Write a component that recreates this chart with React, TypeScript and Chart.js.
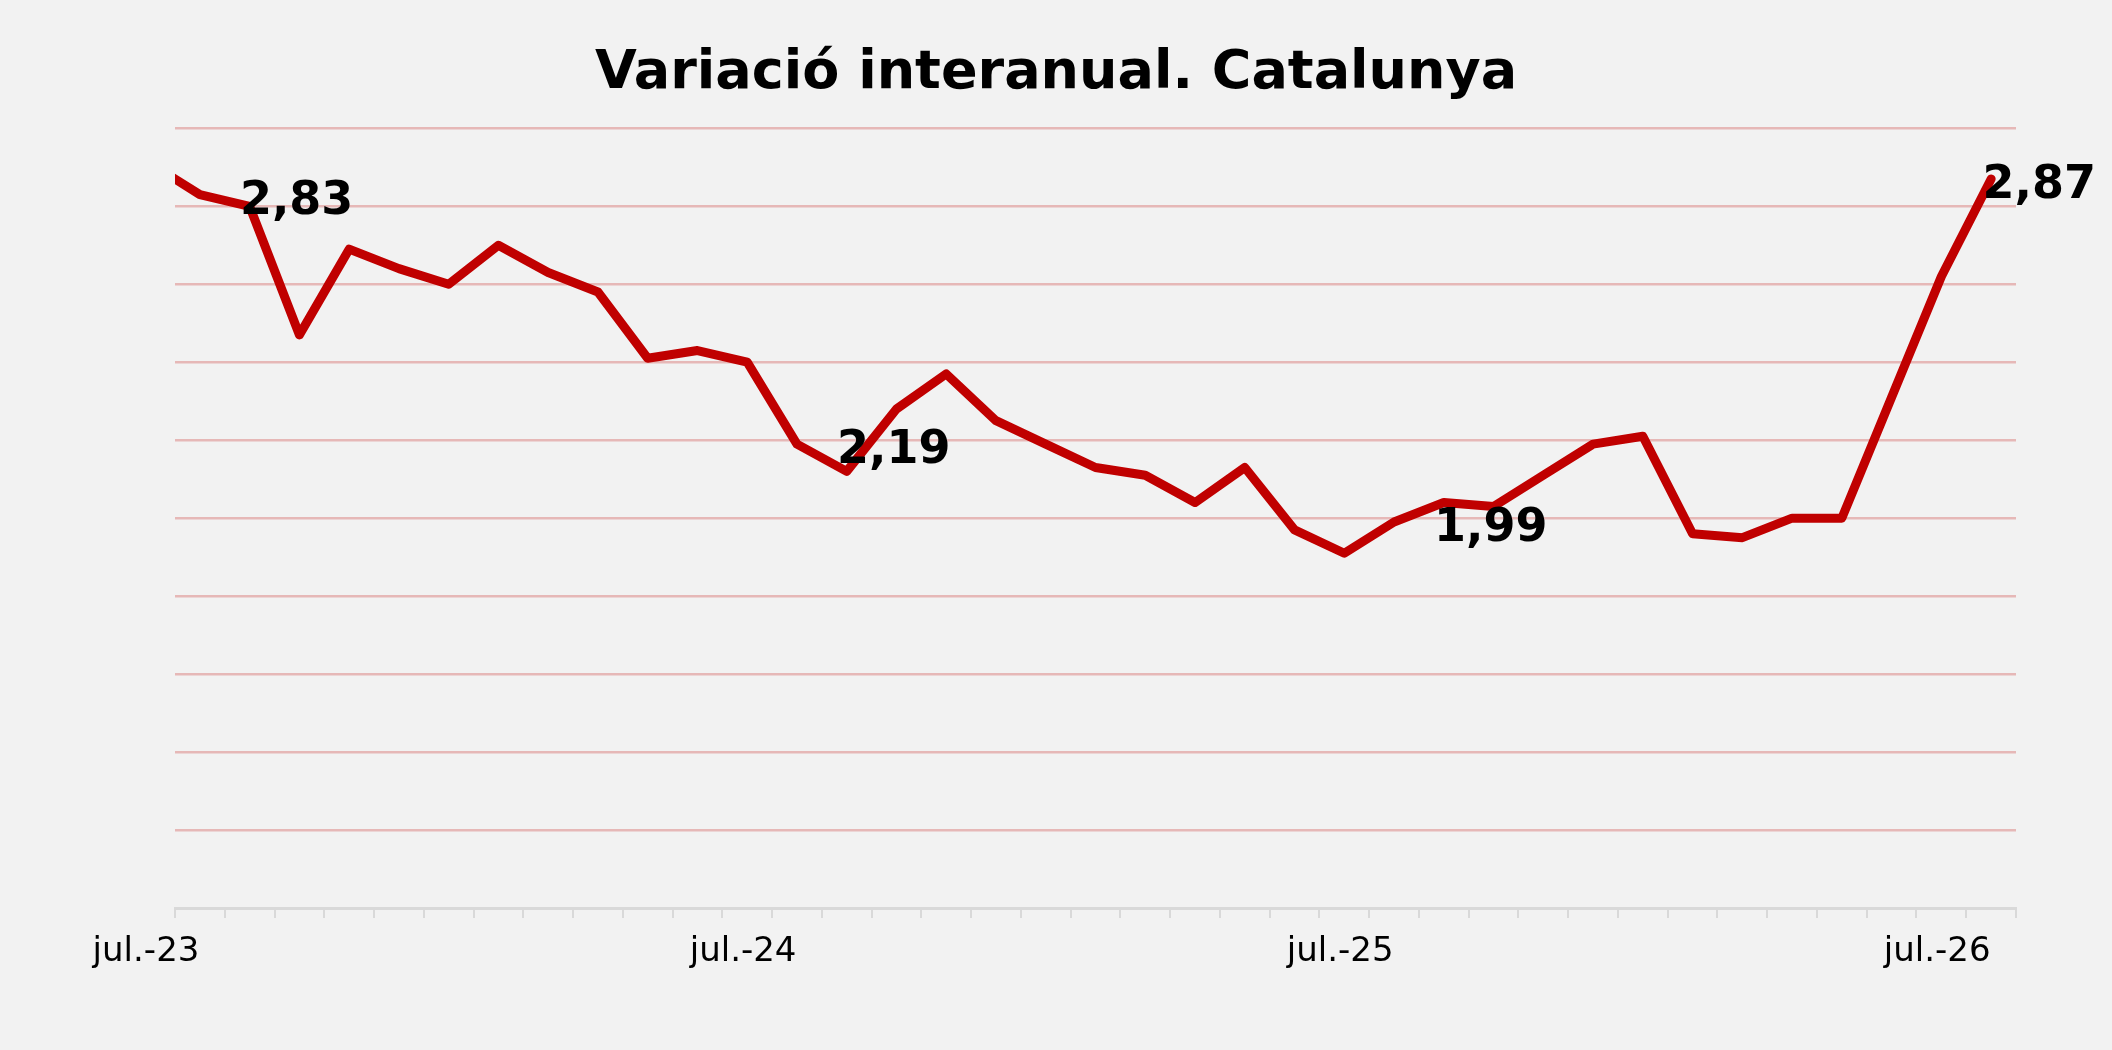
import { useEffect, useRef } from "react";
import { Chart, registerables } from "chart.js";

Chart.register(...registerables);

// Mesos de la sèrie (el primer queda retallat a l'esquerra de l'eix)
const months = [
  "jul.-23", "ag.-23", "set.-23", "oct.-23", "nov.-23", "des.-23",
  "gen.-24", "febr.-24", "març-24", "abr.-24", "maig-24", "juny-24",
  "jul.-24", "ag.-24", "set.-24", "oct.-24", "nov.-24", "des.-24",
  "gen.-25", "febr.-25", "març-25", "abr.-25", "maig-25", "juny-25",
  "jul.-25", "ag.-25", "set.-25", "oct.-25", "nov.-25", "des.-25",
  "gen.-26", "febr.-26", "març-26", "abr.-26", "maig-26", "juny-26",
  "jul.-26", "ag.-26",
];

const values = [
  2.91, 2.83, 2.8, 2.47, 2.69, 2.64,
  2.6, 2.7, 2.63, 2.58, 2.41, 2.43,
  2.4, 2.19, 2.12, 2.28, 2.37, 2.25,
  2.19, 2.13, 2.11, 2.04, 2.13, 1.97,
  1.91, 1.99, 2.04, 2.03, 2.11, 2.19,
  2.21, 1.96, 1.95, 2.0, 2.0, 2.31,
  2.62, 2.87,
];

// mesos amb etiqueta a l'eix X
const axisLabelMonths = ["jul.-23", "jul.-24", "jul.-25", "jul.-26"];
// punts amb el valor escrit
const labeledMonths = ["ag.-23", "ag.-24", "ag.-25", "ag.-26"];

const FONT = "DejaVu Sans";

const pointLabels = {
  id: "pointLabels",
  afterDatasetsDraw(chart: Chart) {
    const { ctx } = chart;
    const meta = chart.getDatasetMeta(0);
    ctx.save();
    ctx.font = `bold 46px ${FONT}`;
    ctx.fillStyle = "#000";
    ctx.textBaseline = "alphabetic";
    labeledMonths.forEach((m) => {
      const i = months.indexOf(m);
      const pt = meta.data[i];
      const text = values[i].toFixed(2).replace(".", ",");
      const w = ctx.measureText(text).width;
      const x = Math.min(pt.x + 40, chart.width - w - 16);
      ctx.fillText(text, x, pt.y + 19);
    });
    ctx.restore();
  },
};

export default function App() {
  const chartRef = useRef<HTMLCanvasElement | null>(null);

  useEffect(() => {
    document.body.style.margin = "0";
    document.body.style.background = "#f2f2f2";
    if (!chartRef.current) return;

    const chart = new Chart(chartRef.current, {
      type: "line",
      data: {
        datasets: [
          {
            label: "Variació interanual",
            data: values.map((v, i) => ({ x: i, y: v })),
            borderColor: "#c00000",
            borderWidth: 9,
            borderJoinStyle: "round",
            borderCapStyle: "round",
            pointRadius: 0,
            tension: 0,
            clip: 0,
          },
        ],
      },
      options: {
        responsive: false,
        animation: false,
        layout: {
          padding: { left: 96, right: 96, top: 0, bottom: 82 },
        },
        plugins: {
          legend: { display: false },
          tooltip: { enabled: false },
          title: {
            display: true,
            text: "Variació interanual. Catalunya",
            color: "#000",
            font: { family: FONT, size: 54, weight: "bold" },
            padding: { top: 42, bottom: 21.5 },
          },
        },
        scales: {
          x: {
            type: "linear",
            min: 0.5,
            max: months.length - 0.5,
            afterBuildTicks: (axis) => {
              axis.ticks = months.map((_, i) => ({ value: i + 0.5 }));
            },
            afterFit: (scale) => {
              scale.height = 60;
            },
            grid: {
              drawOnChartArea: false,
              drawTicks: true,
              tickLength: 10,
              color: "#d9d9d9",
              lineWidth: 2,
            },
            border: { display: true, color: "#d9d9d9", width: 3 },
            ticks: {
              autoSkip: false,
              maxRotation: 0,
              minRotation: 0,
              padding: 14,
              labelOffset: -29,
              color: "#000",
              font: { family: FONT, size: 34 },
              callback: (value) => {
                const m = months[Math.round(Number(value) - 0.5)];
                return axisLabelMonths.includes(m) ? m : "";
              },
            },
          },
          y: {
            min: 1,
            max: 3,
            afterFit: (scale) => {
              scale.width = 79;
            },
            ticks: { display: false, stepSize: 0.2 },
            border: { display: false },
            grid: {
              drawTicks: false,
              lineWidth: 2.5,
              color: (ctx) =>
                ctx.tick && ctx.tick.value <= 1.0001 ? "rgba(0,0,0,0)" : "#e6b8b7",
            },
          },
        },
      },
      plugins: [pointLabels],
    });

    return () => {
      chart.destroy();
    };
  }, []);

  return (
    <div style={{ width: 2112, height: 1050, background: "#f2f2f2" }}>
      <canvas ref={chartRef} width={2112} height={1050} />
    </div>
  );
}
